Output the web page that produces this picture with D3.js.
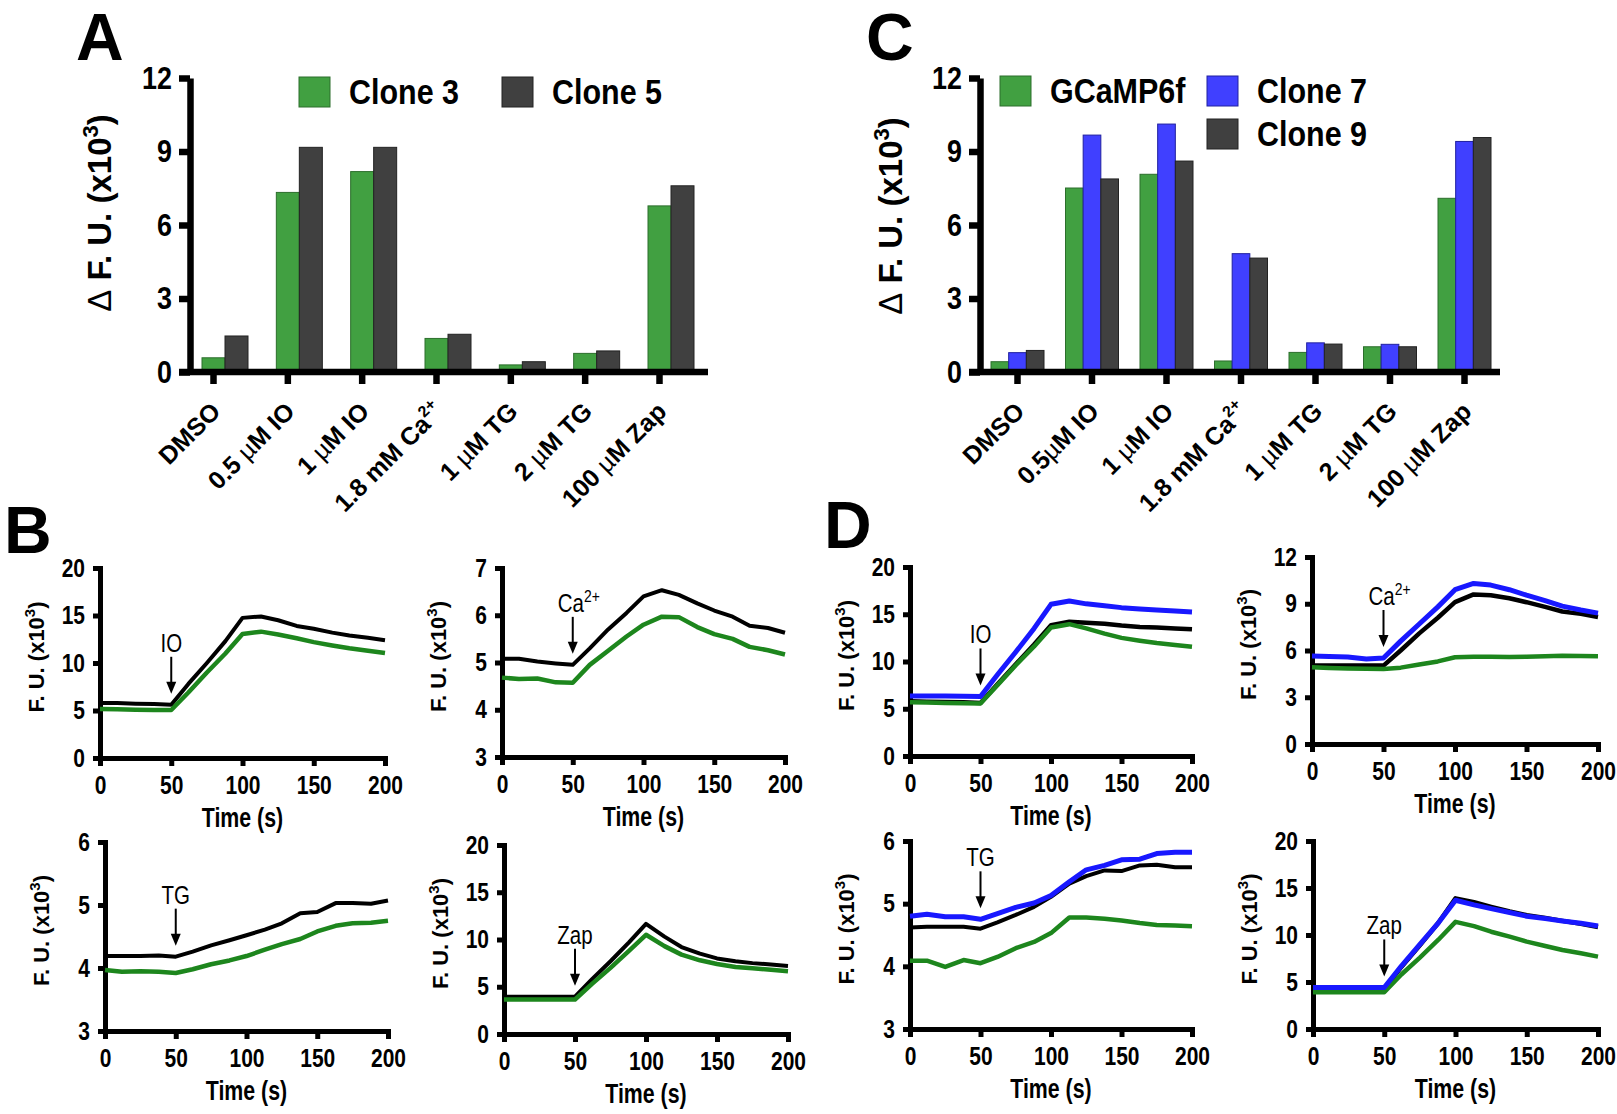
<!DOCTYPE html>
<html><head><meta charset="utf-8">
<script src="https://cdn.jsdelivr.net/npm/d3@7"></script>
<style>body{margin:0;background:#fff}</style>
</head><body>
<script>
// ---------------- DATA ----------------
const catsA = ["DMSO", "0.5 µM IO", "1 µM IO", "1.8 mM Ca^{2+}", "1 µM TG", "2 µM TG", "100 µM Zap"];
const clone3A = [0.58, 7.33, 8.18, 1.37, 0.29, 0.76, 6.78];
const clone5A = [1.47, 9.17, 9.17, 1.54, 0.42, 0.86, 7.60];

const catsC = ["DMSO", "0.5µM IO", "1 µM IO", "1.8 mM Ca^{2+}", "1 µM TG", "2 µM TG", "100 µM Zap"];
const gcampC = [0.42, 7.51, 8.07, 0.45, 0.80, 1.03, 7.09];
const clone7C = [0.79, 9.67, 10.12, 4.83, 1.19, 1.13, 9.41];
const clone9C = [0.88, 7.88, 8.61, 4.65, 1.14, 1.03, 9.57];

const barTicks = [0, 3, 6, 9, 12];
const timeTicks = [0, 50, 100, 150, 200];
const timePts = [0, 12, 25, 38, 50, 62, 75, 88, 100, 113, 125, 138, 150, 163, 175, 188, 200];

// Panel B traces (black = Clone 5, green = Clone 3)
const bIO_black  = [5.8, 5.78, 5.72, 5.68, 5.6, 7.8, 10.0, 12.3, 14.75, 14.9, 14.5, 13.9, 13.6, 13.2, 12.9, 12.65, 12.4];
const bIO_green  = [5.15, 5.12, 5.08, 5.05, 5.05, 6.9, 9.0, 11.0, 13.05, 13.3, 13.0, 12.6, 12.2, 11.85, 11.55, 11.3, 11.05];
const bCa_black  = [5.08, 5.08, 5.02, 4.98, 4.95, 5.3, 5.7, 6.05, 6.4, 6.53, 6.43, 6.25, 6.1, 5.97, 5.78, 5.73, 5.63];
const bCa_green  = [4.68, 4.65, 4.66, 4.58, 4.57, 4.95, 5.25, 5.55, 5.8, 5.97, 5.96, 5.75, 5.6, 5.5, 5.33, 5.26, 5.17];
const bTG_black  = [4.19, 4.19, 4.19, 4.2, 4.18, 4.26, 4.36, 4.44, 4.52, 4.61, 4.71, 4.87, 4.89, 5.03, 5.03, 5.02, 5.07];
const bTG_green  = [3.97, 3.94, 3.95, 3.94, 3.92, 3.98, 4.06, 4.12, 4.19, 4.29, 4.38, 4.46, 4.58, 4.67, 4.71, 4.72, 4.75];
const bZap_black = [3.95, 3.95, 3.95, 3.95, 3.95, 5.8, 7.7, 9.7, 11.65, 10.3, 9.2, 8.5, 8.0, 7.7, 7.5, 7.35, 7.2];
const bZap_green = [3.65, 3.65, 3.65, 3.65, 3.65, 5.3, 7.0, 8.8, 10.5, 9.3, 8.4, 7.8, 7.4, 7.1, 6.95, 6.8, 6.65];

// Panel D traces (blue = Clone 7, black = Clone 9, green = GCaMP6f)
const dIO_blue   = [6.35, 6.35, 6.34, 6.33, 6.3, 8.6, 11.0, 13.5, 16.05, 16.4, 16.1, 15.9, 15.7, 15.55, 15.45, 15.35, 15.25];
const dIO_black  = [5.8, 5.75, 5.72, 5.68, 5.62, 7.6, 9.7, 11.8, 13.85, 14.2, 14.1, 14.0, 13.8, 13.65, 13.6, 13.5, 13.4];
const dIO_green  = [5.7, 5.65, 5.6, 5.58, 5.55, 7.5, 9.6, 11.6, 13.6, 13.95, 13.5, 12.95, 12.5, 12.2, 11.95, 11.75, 11.55];
const dCa_blue   = [5.65, 5.62, 5.58, 5.45, 5.52, 6.6, 7.7, 8.8, 9.9, 10.3, 10.2, 9.9, 9.55, 9.2, 8.85, 8.6, 8.4];
const dCa_black  = [5.03, 5.03, 5.03, 5.03, 5.03, 6.0, 7.1, 8.1, 9.1, 9.6, 9.55, 9.35, 9.1, 8.8, 8.5, 8.35, 8.15];
const dCa_green  = [4.92, 4.88, 4.85, 4.83, 4.82, 4.9, 5.1, 5.3, 5.57, 5.6, 5.6, 5.58, 5.6, 5.63, 5.66, 5.65, 5.63];
const dTG_blue   = [4.80, 4.83, 4.79, 4.79, 4.75, 4.84, 4.94, 5.01, 5.13, 5.35, 5.54, 5.61, 5.70, 5.71, 5.80, 5.82, 5.82];
const dTG_black  = [4.62, 4.63, 4.63, 4.63, 4.6, 4.7, 4.82, 4.95, 5.11, 5.32, 5.44, 5.53, 5.52, 5.61, 5.62, 5.58, 5.58];
const dTG_green  = [4.09, 4.09, 3.99, 4.10, 4.05, 4.15, 4.29, 4.39, 4.53, 4.78, 4.78, 4.76, 4.73, 4.69, 4.66, 4.65, 4.64];
const dZap_blue  = [4.42, 4.42, 4.42, 4.42, 4.42, 6.7, 9.0, 11.3, 13.7, 13.2, 12.8, 12.4, 12.0, 11.75, 11.5, 11.25, 10.95];
const dZap_black = [4.25, 4.25, 4.25, 4.25, 4.25, 6.6, 8.9, 11.3, 13.9, 13.5, 13.0, 12.5, 12.1, 11.8, 11.5, 11.2, 10.85];
const dZap_green = [3.92, 3.92, 3.92, 3.92, 3.92, 5.8, 7.6, 9.5, 11.4, 10.95, 10.35, 9.82, 9.29, 8.83, 8.41, 8.06, 7.7];

// ---------------- STYLE ----------------
const SANS = "'Liberation Sans',Arial,Helvetica,sans-serif";
const SQ = 0.84;      // horizontal squeeze for the condensed labels
const C_BAR_GREEN = "#41a041", C_BAR_DARK = "#404040", C_BAR_BLUE = "#4040ff";
const C_TR_GREEN = "#1d861d", C_TR_BLACK = "#000", C_TR_BLUE = "#1818ff";

const svg = d3.select("body").append("svg").attr("width", 1617).attr("height", 1114)
  .style("display", "block").attr("font-family", SANS);

// rich text: ^{..} superscript, µ / Δ in normal weight
function rich(textSel, str, supSize, supShift) {
  let pending = 0;
  str.split(/(\^\{[^}]*\}|µ|Δ)/).filter(s => s.length).forEach(tok => {
    if (tok.startsWith("^{")) {
      textSel.append("tspan").attr("dy", -supShift).attr("font-size", supSize).text(tok.slice(2, -1));
      pending = supShift;
    } else {
      const t = textSel.append("tspan").text(tok);
      if (tok === "µ" || tok === "Δ") t.attr("font-weight", "normal");
      if (pending) { t.attr("dy", pending); pending = 0; }
    }
  });
  return textSel;
}
// condense text horizontally (narrow type look)
function squeeze(sel, sx) {
  sel.each(function () {
    const t = d3.select(this);
    const x = +t.attr("x") || 0, y = +t.attr("y") || 0;
    t.attr("x", null).attr("y", null).attr("transform", `translate(${x},${y}) scale(${sx},1)`);
  });
  return sel;
}

// ---------------- BAR CHARTS ----------------
function barChart(cfg) {
  const g = svg.append("g");
  const y = d3.scaleLinear().domain([0, 12]).range([cfg.yBottom, cfg.yTop]);
  const x = d3.scalePoint().domain(cfg.cats).range([cfg.firstTick, cfg.lastTick]);
  const inner = d3.scaleBand().domain(cfg.series.map(s => s.name)).range(cfg.innerRange);

  cfg.series.forEach(s => {
    g.append("g").selectAll("rect").data(s.values).enter().append("rect")
      .attr("x", (d, i) => x(cfg.cats[i]) + inner(s.name))
      .attr("y", d => y(d))
      .attr("width", inner.bandwidth())
      .attr("height", d => y(0) - y(d))
      .attr("fill", s.color).attr("stroke", s.stroke).attr("stroke-width", 1);
  });

  // y axis
  const ya = g.append("g").attr("transform", `translate(${cfg.x0},0)`)
    .call(d3.axisLeft(y).tickValues(barTicks).tickFormat(d3.format("d"))
      .tickSize(11).tickSizeOuter(0).tickPadding(7));
  ya.attr("font-family", SANS).attr("font-size", 32).attr("font-weight", "bold");
  ya.select(".domain").attr("stroke-width", 6.5).attr("stroke", "#000");
  ya.selectAll(".tick line").attr("stroke-width", 6.5);
  squeeze(ya.selectAll(".tick text").attr("fill", "#000"), SQ);

  // x axis
  g.append("line").attr("x1", cfg.x0 - 11).attr("x2", cfg.xEnd)
    .attr("y1", y(0)).attr("y2", y(0)).attr("stroke", "#000").attr("stroke-width", 6.5);
  const xa = g.append("g").attr("transform", `translate(0,${y(0)})`)
    .call(d3.axisBottom(x).tickSize(12).tickSizeOuter(0).tickFormat(""));
  xa.select(".domain").remove();
  xa.selectAll(".tick line").attr("stroke-width", 6.5);

  // x labels
  cfg.cats.forEach(c => {
    const t = g.append("text")
      .attr("transform", `translate(${x(c) + 9},${y(0) + 41}) rotate(-45)`)
      .attr("text-anchor", "end").attr("font-weight", "bold").attr("font-size", 25);
    rich(t, c, 16, 11);
  });

  // y label
  const yl = g.append("text")
    .attr("transform", `translate(${cfg.yLabelX},${cfg.yLabelY}) rotate(-90)`)
    .attr("text-anchor", "middle").attr("font-weight", "bold").attr("font-size", 33);
  rich(yl, "Δ F. U. (x10^{3})", 22, 13);

  // legend
  cfg.series.forEach(s => {
    g.append("rect").attr("x", s.lx).attr("y", s.ly).attr("width", 31).attr("height", 30)
      .attr("fill", s.color).attr("stroke", s.stroke).attr("stroke-width", 1);
    squeeze(g.append("text").attr("x", s.lx + 50).attr("y", s.ly + 27)
      .attr("font-weight", "bold").attr("font-size", 35).text(s.name), 0.87);
  });

  // panel letter
  g.append("text").attr("x", cfg.letterX).attr("y", 60)
    .attr("font-weight", "bold").attr("font-size", 66).text(cfg.letter);
}

barChart({
  letter: "A", letterX: 76,
  cats: catsA, x0: 190, xEnd: 708, yTop: 78, yBottom: 372, firstTick: 213, lastTick: 659,
  innerRange: [-11, 35], yLabelX: 111, yLabelY: 213,
  series: [
    { name: "Clone 3", values: clone3A, color: C_BAR_GREEN, stroke: "#2c6e2c", lx: 299, ly: 77 },
    { name: "Clone 5", values: clone5A, color: C_BAR_DARK, stroke: "#222", lx: 502, ly: 77 }
  ]
});

barChart({
  letter: "C", letterX: 866,
  cats: catsC, x0: 980, xEnd: 1500, yTop: 78, yBottom: 372, firstTick: 1017, lastTick: 1464,
  innerRange: [-26, 27], yLabelX: 902, yLabelY: 216,
  series: [
    { name: "GCaMP6f", values: gcampC, color: C_BAR_GREEN, stroke: "#2c6e2c", lx: 1000, ly: 76 },
    { name: "Clone 7", values: clone7C, color: C_BAR_BLUE, stroke: "#2020a0", lx: 1207, ly: 76 },
    { name: "Clone 9", values: clone9C, color: C_BAR_DARK, stroke: "#222", lx: 1207, ly: 119 }
  ]
});

// ---------------- TRACE PANELS ----------------
function tracePanel(p) {
  const g = svg.append("g");
  const x = d3.scaleLinear().domain([0, 200]).range([p.x0, p.x1]);
  const y = d3.scaleLinear().domain(p.yDomain).range([p.yBot, p.yTop]);

  const ya = g.append("g").attr("transform", `translate(${p.x0},0)`)
    .call(d3.axisLeft(y).tickValues(p.yTicks).tickFormat(d3.format("d"))
      .tickSize(7).tickSizeOuter(0).tickPadding(8));
  const xa = g.append("g").attr("transform", `translate(0,${p.yBot})`)
    .call(d3.axisBottom(x).tickValues(timeTicks).tickFormat(d3.format("d"))
      .tickSize(8).tickSizeOuter(0).tickPadding(10));
  [ya, xa].forEach(a => {
    a.attr("font-family", SANS).attr("font-size", 25).attr("font-weight", "bold");
    a.select(".domain").attr("stroke-width", 5).attr("stroke", "#000").attr("stroke-linecap", "square");
    a.selectAll(".tick line").attr("stroke-width", 5);
    squeeze(a.selectAll(".tick text").attr("fill", "#000"), SQ);
  });

  const line = d3.line().x((d, i) => x(timePts[i])).y(d => y(d));
  p.series.forEach(s => {
    g.append("path").attr("d", line(s.values)).attr("fill", "none")
      .attr("stroke", s.color).attr("stroke-width", s.w).attr("stroke-linejoin", "round");
  });

  // axis titles
  squeeze(g.append("text").attr("x", (p.x0 + p.x1) / 2).attr("y", p.yBot + 69)
    .attr("text-anchor", "middle").attr("font-weight", "bold")
    .attr("font-size", 27).text("Time (s)"), 0.79);
  const yl = g.append("text")
    .attr("transform", `translate(${p.x0 - 56},${(p.yTop + p.yBot) / 2 - 6}) rotate(-90)`)
    .attr("text-anchor", "middle").attr("font-weight", "bold").attr("font-size", 22);
  rich(yl, "F. U. (x10^{3})", 15, 9);

  // stimulus arrow at t = 50
  const idx50 = timePts.indexOf(50);
  const topVal = d3.max(p.series, s => s.values[idx50]);
  const tip = y(topVal) - 11;
  const ax = x(50);
  g.append("line").attr("x1", ax).attr("x2", ax).attr("y1", tip - 37).attr("y2", tip - 10)
    .attr("stroke", "#000").attr("stroke-width", 2);
  g.append("path").attr("d", `M${ax - 5},${tip - 12}L${ax + 5},${tip - 12}L${ax},${tip}Z`).attr("fill", "#000");
  const st = g.append("text").attr("x", ax + (p.stimDx || 0)).attr("y", tip - 42)
    .attr("text-anchor", "middle").attr("font-size", 25);
  rich(st, p.stim, 17, 10);
  squeeze(st, 0.82);

  if (p.letter) {
    g.append("text").attr("x", p.letterX).attr("y", p.letterY)
      .attr("font-weight", "bold").attr("font-size", 66).text(p.letter);
  }
}

const t5 = [0, 5, 10, 15, 20];
tracePanel({ letter: "B", letterX: 4, letterY: 553,
  x0: 100, x1: 385, yTop: 568, yBot: 758, yDomain: [0, 20], yTicks: t5, stim: "IO",
  series: [{ values: bIO_black, color: C_TR_BLACK, w: 4 }, { values: bIO_green, color: C_TR_GREEN, w: 4.5 }] });
tracePanel({
  x0: 502, x1: 785, yTop: 568, yBot: 757, yDomain: [3, 7], yTicks: [3, 4, 5, 6, 7], stim: "Ca^{2+}", stimDx: 6,
  series: [{ values: bCa_black, color: C_TR_BLACK, w: 4 }, { values: bCa_green, color: C_TR_GREEN, w: 4.5 }] });
tracePanel({
  x0: 105, x1: 388, yTop: 842, yBot: 1031, yDomain: [3, 6], yTicks: [3, 4, 5, 6], stim: "TG",
  series: [{ values: bTG_black, color: C_TR_BLACK, w: 4 }, { values: bTG_green, color: C_TR_GREEN, w: 4.5 }] });
tracePanel({
  x0: 504, x1: 788, yTop: 845, yBot: 1034, yDomain: [0, 20], yTicks: t5, stim: "Zap",
  series: [{ values: bZap_black, color: C_TR_BLACK, w: 4 }, { values: bZap_green, color: C_TR_GREEN, w: 4.5 }] });

tracePanel({ letter: "D", letterX: 824, letterY: 548,
  x0: 910, x1: 1192, yTop: 567, yBot: 756, yDomain: [0, 20], yTicks: t5, stim: "IO",
  series: [{ values: dIO_black, color: C_TR_BLACK, w: 4.5 }, { values: dIO_green, color: C_TR_GREEN, w: 4.5 },
           { values: dIO_blue, color: C_TR_BLUE, w: 5 }] });
tracePanel({
  x0: 1312, x1: 1598, yTop: 557, yBot: 744, yDomain: [0, 12], yTicks: barTicks, stim: "Ca^{2+}", stimDx: 6,
  series: [{ values: dCa_black, color: C_TR_BLACK, w: 4.5 }, { values: dCa_green, color: C_TR_GREEN, w: 4.5 },
           { values: dCa_blue, color: C_TR_BLUE, w: 5 }] });
tracePanel({
  x0: 910, x1: 1192, yTop: 841, yBot: 1029, yDomain: [3, 6], yTicks: [3, 4, 5, 6], stim: "TG",
  series: [{ values: dTG_black, color: C_TR_BLACK, w: 4 }, { values: dTG_green, color: C_TR_GREEN, w: 4.5 },
           { values: dTG_blue, color: C_TR_BLUE, w: 5 }] });
tracePanel({
  x0: 1313, x1: 1598, yTop: 841, yBot: 1029, yDomain: [0, 20], yTicks: t5, stim: "Zap",
  series: [{ values: dZap_black, color: C_TR_BLACK, w: 4.5 }, { values: dZap_green, color: C_TR_GREEN, w: 4.5 },
           { values: dZap_blue, color: C_TR_BLUE, w: 5 }] });
</script>
</body></html>
